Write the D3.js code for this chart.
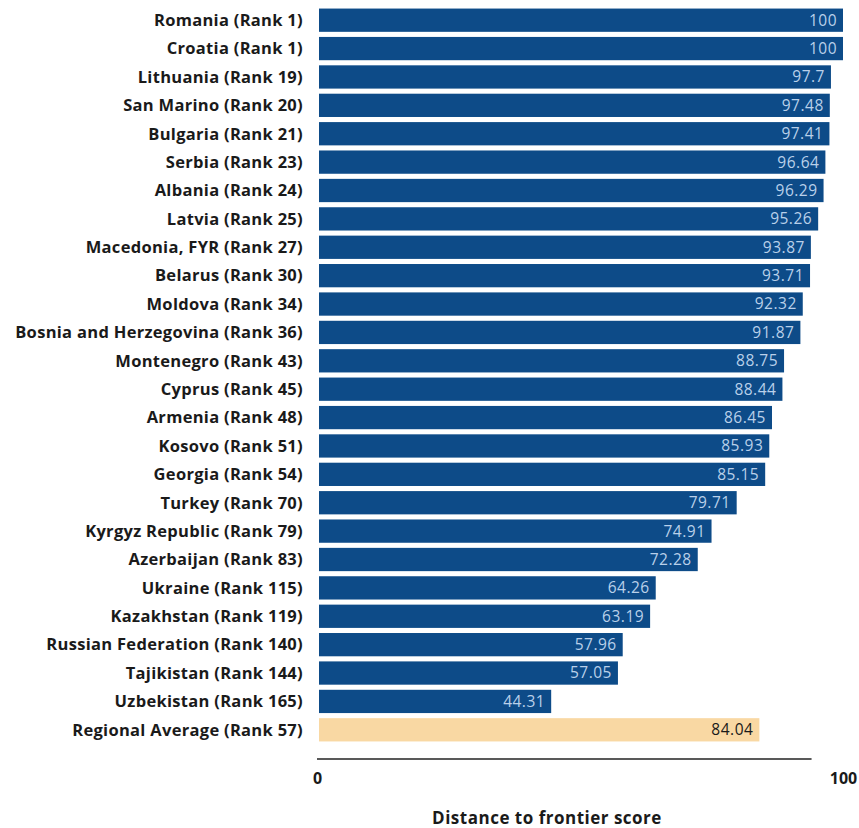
<!DOCTYPE html>
<html>
<head>
<meta charset="utf-8">
<script src="https://cdn.jsdelivr.net/npm/d3@7"></script>
<style>
  body { margin: 0; background: #fff; }
  text { font-family: "Open Sans", Lato, sans-serif; }
</style>
</head>
<body>
<div id="chart"></div>
<script>
var countries = ["Romania", "Croatia", "Lithuania", "San Marino", "Bulgaria", "Serbia", "Albania", "Latvia",
  "Macedonia, FYR", "Belarus", "Moldova", "Bosnia and Herzegovina", "Montenegro", "Cyprus", "Armenia",
  "Kosovo", "Georgia", "Turkey", "Kyrgyz Republic", "Azerbaijan", "Ukraine", "Kazakhstan",
  "Russian Federation", "Tajikistan", "Uzbekistan", "Regional Average"];
var ranks = [1, 1, 19, 20, 21, 23, 24, 25, 27, 30, 34, 36, 43, 45, 48, 51, 54, 70, 79, 83, 115, 119, 140, 144, 165, 57];
var scores = [100, 100, 97.7, 97.48, 97.41, 96.64, 96.29, 95.26, 93.87, 93.71, 92.32, 91.87, 88.75, 88.44,
  86.45, 85.93, 85.15, 79.71, 74.91, 72.28, 64.26, 63.19, 57.96, 57.05, 44.31, 84.04];
var xTicks = [0, 100];
var axisTitle = "Distance to frontier score";

var width = 859, height = 828;
var margin = {top: 6, right: 16, bottom: 84, left: 319};

var rows = countries.map(function(c, i) {
  return {name: c + " (Rank " + ranks[i] + ")", value: scores[i], avg: c == "Regional Average"};
});

var svg = d3.select("#chart").append("svg")
    .attr("width", width)
    .attr("height", height);

var x = d3.scaleLinear().domain([0, 100]).range([margin.left, width - margin.right]);
var y = d3.scaleBand().domain(rows.map(d => d.name))
    .range([margin.top, height - margin.bottom]).paddingInner(0.18).paddingOuter(0.09);

var bars = svg.append("g").selectAll("g")
    .data(rows)
    .enter().append("g");

bars.append("rect")
    .attr("x", x(0))
    .attr("y", d => y(d.name))
    .attr("width", d => x(d.value) - x(0))
    .attr("height", y.bandwidth())
    .attr("fill", d => d.avg ? "#f9d8a3" : "#0d4b88");

bars.append("text")
    .attr("x", d => x(d.value) - 6)
    .attr("y", d => y(d.name) + y.bandwidth() / 2)
    .attr("dy", "0.35em")
    .attr("text-anchor", "end")
    .attr("font-size", 15.5)
    .attr("letter-spacing", 0.5)
    .attr("fill", d => d.avg ? "#1a1a1a" : "#b9d0ea")
    .text(d => d.value);

// category labels
bars.append("text")
    .attr("x", margin.left - 16)
    .attr("y", d => y(d.name) + y.bandwidth() / 2)
    .attr("dy", "0.35em")
    .attr("text-anchor", "end")
    .attr("font-size", 16.5)
    .attr("letter-spacing", 0.3)
    .attr("font-weight", "bold")
    .attr("fill", "#1a1a1a")
    .text(d => d.name);

// axis
var axisY = 759;
var axis = svg.append("g")
    .attr("transform", "translate(0," + axisY + ")")
    .call(d3.axisBottom(x).tickValues(xTicks).tickSize(0).tickPadding(14).tickFormat(d3.format("d")));
axis.select(".domain").remove();
axis.selectAll("text")
    .attr("font-size", 16)
    .attr("font-weight", "bold")
    .attr("fill", "#1a1a1a")
    .style("font-family", "'Open Sans', Lato, sans-serif");
axis.selectAll(".tick").filter(d => d == 0).select("text").attr("dx", -2);

axis.append("line")
    .attr("x1", x(0) - 2)
    .attr("x2", x(94))
    .attr("stroke", "#222")
    .attr("stroke-width", 1.5);

svg.append("text")
    .attr("x", 547)
    .attr("y", 824)
    .attr("text-anchor", "middle")
    .attr("font-size", 17)
    .attr("letter-spacing", 0.5)
    .attr("font-weight", "bold")
    .attr("fill", "#1a1a1a")
    .text(axisTitle);
</script>
</body>
</html>
